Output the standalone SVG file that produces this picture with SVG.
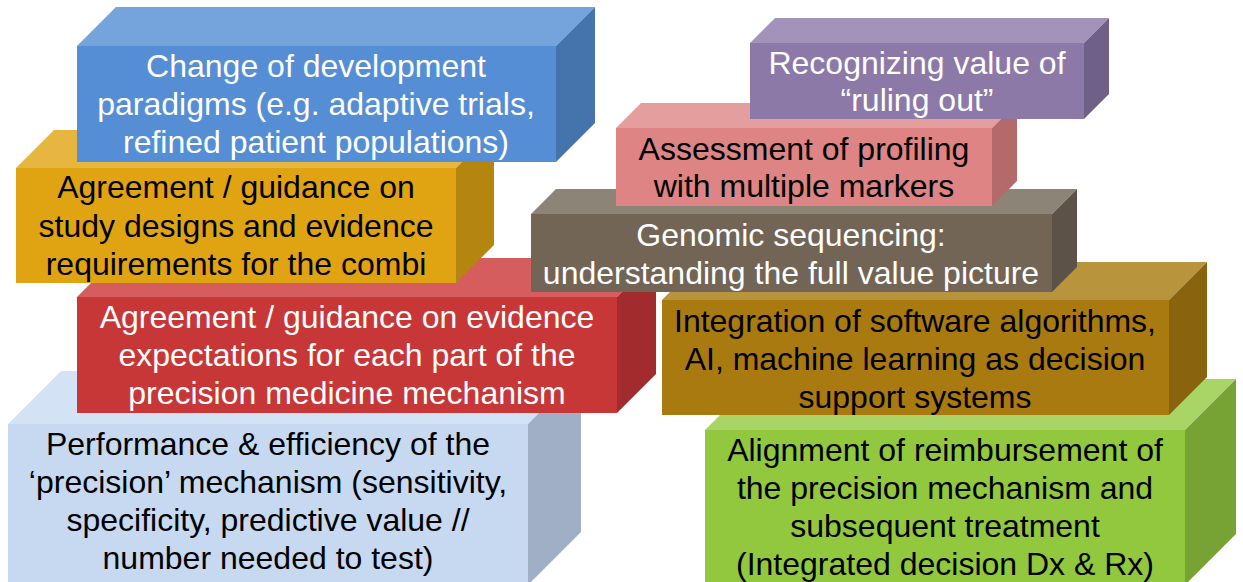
<svg xmlns="http://www.w3.org/2000/svg" width="1243" height="582" viewBox="0 0 1243 582">
<style>
text{font-family:"Liberation Sans",Arial,sans-serif;font-size:32px;text-anchor:middle}
.w{fill:#ffffff}.k{fill:#000000}
</style>
<rect width="1243" height="582" fill="#ffffff"/>
<g id="connectors"/>
<g id="box-performance">
<rect x="8" y="424" width="520" height="161" fill="#C6D9F0"/>
<polygon points="8,424 61,371 581,371 528,424" fill="#D3E2F5"/>
<polygon points="528,424 581,371 581,532 528,585" fill="#A0AFC5"/>
<text class="k" x="268" y="455">Performance &amp; efficiency of the</text>
<text class="k" x="268" y="493">‘precision’ mechanism (sensitivity,</text>
<text class="k" x="268" y="531">specificity, predictive value //</text>
<text class="k" x="268" y="569">number needed to test)</text>
</g>
<g id="box-evidence">
<rect x="77" y="297" width="540" height="116" fill="#C83737"/>
<polygon points="77,297 116,258 656,258 617,297" fill="#D55D5D"/>
<polygon points="617,297 656,258 656,374 617,413" fill="#A12B2D"/>
<text class="w" x="347" y="328">Agreement / guidance on evidence</text>
<text class="w" x="347" y="366">expectations for each part of the</text>
<text class="w" x="347" y="404">precision medicine mechanism</text>
</g>
<g id="box-study">
<rect x="16" y="168" width="440" height="115" fill="#E0A412"/>
<polygon points="16,168 54,130 494,130 456,168" fill="#E6B640"/>
<polygon points="456,168 494,130 494,245 456,283" fill="#B5860F"/>
<text class="k" x="236" y="198">Agreement / guidance on</text>
<text class="k" x="236" y="237">study designs and evidence</text>
<text class="k" x="236" y="275">requirements for the combi</text>
</g>
<g id="box-paradigms">
<rect x="77" y="46" width="479" height="116" fill="#558ED5"/>
<polygon points="77,46 116,7 595,7 556,46" fill="#75A4DD"/>
<polygon points="556,46 595,7 595,123 556,162" fill="#4573AC"/>
<text class="w" x="316" y="77">Change of development</text>
<text class="w" x="316" y="115">paradigms (e.g. adaptive trials,</text>
<text class="w" x="316" y="153">refined patient populations)</text>
</g>
<g id="box-reimbursement">
<rect x="705" y="430" width="480" height="155" fill="#92C83E"/>
<polygon points="705,430 756,379 1236,379 1185,430" fill="#A9D566"/>
<polygon points="1185,430 1236,379 1236,534 1185,585" fill="#76A333"/>
<text class="k" x="945" y="461">Alignment of reimbursement of</text>
<text class="k" x="945" y="499">the precision mechanism and</text>
<text class="k" x="945" y="537">subsequent treatment</text>
<text class="k" x="945" y="575">(Integrated decision Dx &amp; Rx)</text>
</g>
<g id="box-software">
<rect x="662" y="300" width="507" height="115" fill="#A87A10"/>
<polygon points="662,300 700,262 1207,262 1169,300" fill="#B8943C"/>
<polygon points="1169,300 1207,262 1207,377 1169,415" fill="#89630D"/>
<text class="k" x="915" y="332">Integration of software algorithms,</text>
<text class="k" x="915" y="370">AI, machine learning as decision</text>
<text class="k" x="915" y="408">support systems</text>
</g>
<g id="box-genomic">
<rect x="531" y="214" width="521" height="78" fill="#726556"/>
<polygon points="531,214 556,189 1077,189 1052,214" fill="#8D8478"/>
<polygon points="1052,214 1077,189 1077,267 1052,292" fill="#5C5247"/>
<text class="w" x="791" y="246">Genomic sequencing:</text>
<text class="w" x="791" y="284">understanding the full value picture</text>
</g>
<g id="box-profiling">
<rect x="616" y="128" width="376" height="78" fill="#DE8484"/>
<polygon points="616,128 641,103 1017,103 992,128" fill="#E59E9E"/>
<polygon points="992,128 1017,103 1017,181 992,206" fill="#B46A6A"/>
<text class="k" x="804" y="160">Assessment of profiling</text>
<text class="k" x="804" y="197">with multiple markers</text>
</g>
<g id="box-ruling-out">
<rect x="750" y="43" width="334" height="76" fill="#8C79A8"/>
<polygon points="750,43 775,18 1109,18 1084,43" fill="#A392BA"/>
<polygon points="1084,43 1109,18 1109,94 1084,119" fill="#6F6088"/>
<text class="w" x="917" y="74">Recognizing value of</text>
<text class="w" x="917" y="111">“ruling out”</text>
</g>
</svg>
